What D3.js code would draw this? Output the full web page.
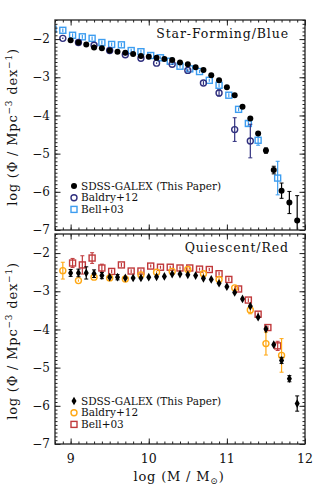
<!DOCTYPE html>
<html>
<head>
<meta charset="utf-8">
<script src="https://cdn.jsdelivr.net/npm/d3@7"></script>
<style>
  body { margin: 0; background: #fff; }
  text { font-family: "DejaVu Serif", serif; fill: #111; }
</style>
</head>
<body>
<svg width="325" height="500"></svg>
<script>
// --- data ---
var xTicks = [9, 10, 11, 12];
var yTicks = [-2, -3, -4, -5, -6, -7];

// star-forming / blue panel
var sfSdssX = [9.0,9.1,9.2,9.3,9.4,9.5,9.6,9.7,9.8,9.9,10.0,10.1,10.2,10.3,10.4,10.5,10.6,10.7,10.8,10.9,11.0,11.1,11.2,11.3,11.4,11.5,11.6,11.7,11.8,11.9];
var sfSdssY = [-2.03,-2.09,-2.14,-2.22,-2.24,-2.30,-2.33,-2.36,-2.39,-2.44,-2.46,-2.49,-2.52,-2.55,-2.61,-2.66,-2.74,-2.81,-2.95,-3.08,-3.26,-3.47,-3.77,-4.08,-4.47,-4.92,-5.43,-5.97,-6.28,-6.75];
var sfSdssE = [0.02,0.02,0.02,0.02,0.02,0.02,0.02,0.02,0.02,0.02,0.02,0.02,0.02,0.02,0.02,0.02,0.02,0.02,0.02,0.02,0.02,0.02,0.03,0.04,0.05,0.07,0.1,0.2,0.29,0.65];

var sfBalX = [8.9,9.1,9.3,9.5,9.7,9.9,10.1,10.3,10.5,10.7,10.9,11.1,11.3];
var sfBalY = [-1.98,-2.09,-2.16,-2.30,-2.41,-2.50,-2.63,-2.66,-2.82,-3.15,-3.41,-4.37,-4.67];
var sfBalE = [0.02,0.02,0.02,0.02,0.02,0.02,0.02,0.02,0.03,0.05,0.08,0.31,0.44];

var sfBellX = [8.775,8.9,9.025,9.15,9.275,9.4,9.525,9.65,9.775,9.9,10.025,10.15,10.275,10.4,10.525,10.65,10.775,10.9,11.025,11.15,11.275,11.4,11.65];
var sfBellY = [-1.74,-1.77,-1.90,-1.94,-1.98,-2.09,-2.14,-2.15,-2.30,-2.33,-2.43,-2.49,-2.58,-2.71,-2.78,-2.85,-3.08,-3.21,-3.47,-3.84,-4.21,-4.65,-5.64];
var sfBellE = [0.05,0.05,0.05,0.05,0.05,0.05,0.05,0.05,0.05,0.05,0.05,0.04,0.04,0.04,0.04,0.04,0.04,0.05,0.05,0.05,0.07,0.13,0.44];

// quiescent / red panel
var qSdssX = [9.0,9.1,9.2,9.3,9.4,9.5,9.6,9.7,9.8,9.9,10.0,10.1,10.2,10.3,10.4,10.5,10.6,10.7,10.8,10.9,11.0,11.1,11.2,11.3,11.4,11.5,11.6,11.7,11.8,11.9];
var qSdssY = [-2.52,-2.52,-2.52,-2.54,-2.59,-2.63,-2.63,-2.65,-2.65,-2.65,-2.63,-2.62,-2.61,-2.55,-2.55,-2.57,-2.59,-2.66,-2.69,-2.79,-2.88,-3.03,-3.20,-3.39,-3.68,-3.99,-4.40,-4.81,-5.29,-5.94];
var qSdssE = [0.09,0.1,0.16,0.1,0.08,0.06,0.07,0.06,0.05,0.05,0.04,0.04,0.03,0.03,0.03,0.03,0.03,0.03,0.03,0.03,0.03,0.03,0.03,0.04,0.04,0.05,0.05,0.08,0.08,0.2];

var qBalX = [8.9,9.1,9.3,9.5,9.7,9.9,10.1,10.3,10.5,10.7,10.9,11.1,11.3,11.5,11.7];
var qBalY = [-2.46,-2.72,-2.63,-2.65,-2.68,-2.57,-2.50,-2.48,-2.43,-2.54,-2.69,-2.91,-3.49,-4.37,-4.68];
var qBalE = [0.22,0.03,0.03,0.03,0.03,0.03,0.03,0.03,0.03,0.03,0.04,0.05,0.1,0.3,0.44];

var qBellX = [9.025,9.15,9.275,9.4,9.525,9.65,9.775,9.9,10.025,10.15,10.275,10.4,10.525,10.65,10.775,10.9,11.025,11.15,11.275,11.4,11.525,11.65];
var qBellY = [-2.26,-2.31,-2.13,-2.39,-2.48,-2.31,-2.47,-2.47,-2.34,-2.37,-2.37,-2.39,-2.39,-2.42,-2.43,-2.54,-2.69,-2.94,-3.23,-3.60,-3.95,-4.43];
var qBellE = [0.12,0.24,0.14,0.1,0.05,0.05,0.05,0.05,0.04,0.04,0.04,0.04,0.04,0.04,0.04,0.05,0.05,0.05,0.05,0.05,0.05,0.12];

var colSdss = "#000000", colBalSF = "#30307f", colBellSF = "#3d9df0",
    colBalQ = "#ffa814", colBellQ = "#c0393b";

function zip(xs, ys, es) {
  return xs.map(function(x, i) { return {x: x, y: ys[i], e: es[i]}; });
}

var svg = d3.select("svg");
var x = d3.scaleLinear().domain([8.8, 12]).range([55, 305]);

var panels = [
  {top: 20, bottom: 230, label: "Star-Forming/Blue", xLabels: false,
   series: [
     {data: zip(sfBellX, sfBellY, sfBellE), color: colBellSF, shape: "square", name: "Bell+03"},
     {data: zip(sfBalX, sfBalY, sfBalE), color: colBalSF, shape: "circle", name: "Baldry+12"},
     {data: zip(sfSdssX, sfSdssY, sfSdssE), color: colSdss, shape: "dot", name: "SDSS-GALEX (This Paper)"}
   ], legendY: 186},
  {top: 234, bottom: 444, label: "Quiescent/Red", xLabels: true,
   series: [
     {data: zip(qBellX, qBellY, qBellE), color: colBellQ, shape: "square", name: "Bell+03"},
     {data: zip(qBalX, qBalY, qBalE), color: colBalQ, shape: "circle", name: "Baldry+12"},
     {data: zip(qSdssX, qSdssY, qSdssE), color: colSdss, shape: "diamond", name: "SDSS-GALEX (This Paper)"}
   ], legendY: 401}
];

function drawMarker(g, shape, color, cx, cy) {
  if (shape == "dot") {
    g.append("circle").attr("cx", cx).attr("cy", cy).attr("r", 3).attr("fill", color);
  } else if (shape == "diamond") {
    g.append("path").attr("transform", "translate(" + cx + "," + cy + ")")
      .attr("d", d3.symbol(d3.symbolDiamond, 22)()).attr("fill", color);
  } else if (shape == "circle") {
    g.append("circle").attr("cx", cx).attr("cy", cy).attr("r", 3)
      .attr("fill", "none").attr("stroke", color).attr("stroke-width", 1.4);
  } else {
    g.append("rect").attr("x", cx - 3).attr("y", cy - 3).attr("width", 6).attr("height", 6)
      .attr("fill", "none").attr("stroke", color).attr("stroke-width", 1.4);
  }
}

panels.forEach(function(p, pi) {
  var y = d3.scaleLinear().domain([-7, -1.5]).range([p.bottom, p.top]);
  var clipId = "clip" + pi;
  svg.append("clipPath").attr("id", clipId).append("rect")
    .attr("x", 55).attr("y", p.top).attr("width", 250).attr("height", p.bottom - p.top);

  var plot = svg.append("g").attr("clip-path", "url(#" + clipId + ")");

  p.series.forEach(function(s) {
    var g = plot.append("g");
    // error bars with small caps
    g.selectAll("line.eb").data(s.data).enter().append("line")
      .attr("x1", function(d) { return x(d.x); }).attr("x2", function(d) { return x(d.x); })
      .attr("y1", function(d) { return y(d.y - d.e); }).attr("y2", function(d) { return y(d.y + d.e); })
      .attr("stroke", s.color).attr("stroke-width", 1.2);
    [-1, 1].forEach(function(sg) {
      g.selectAll(null).data(s.data.filter(function(d) { return d.e > 0.06; })).enter().append("line")
        .attr("x1", function(d) { return x(d.x) - 2; }).attr("x2", function(d) { return x(d.x) + 2; })
        .attr("y1", function(d) { return y(d.y + sg * d.e); }).attr("y2", function(d) { return y(d.y + sg * d.e); })
        .attr("stroke", s.color).attr("stroke-width", 1);
    });
    s.data.forEach(function(d) { drawMarker(g, s.shape, s.color, x(d.x), y(d.y)); });
  });

  // frame
  svg.append("rect").attr("x", 55).attr("y", p.top).attr("width", 250).attr("height", p.bottom - p.top)
    .attr("fill", "none").attr("stroke", "#333").attr("stroke-width", 1.4);

  var minorX = d3.range(88, 121).map(function(v) { return v / 10; });
  var minorY = d3.range(-70, -14).map(function(v) { return v / 10; });

  function axes(axisFn, scale, pos, major, minor, horiz) {
    var gMin = svg.append("g").attr("transform", horiz ? "translate(0," + pos + ")" : "translate(" + pos + ",0)")
      .call(axisFn(scale).tickValues(minor).tickSize(-2.5).tickFormat(""));
    var gMaj = svg.append("g").attr("transform", horiz ? "translate(0," + pos + ")" : "translate(" + pos + ",0)")
      .call(axisFn(scale).tickValues(major).tickSize(-5.5).tickFormat(""));
    [gMin, gMaj].forEach(function(g) {
      g.select(".domain").remove();
      g.selectAll("line").attr("stroke", "#222");
    });
  }
  axes(d3.axisBottom, x, p.bottom, xTicks, minorX, true);
  axes(d3.axisTop, x, p.top, xTicks, minorX, true);
  axes(d3.axisLeft, y, 55, yTicks, minorY, false);
  axes(d3.axisRight, y, 305, yTicks, minorY, false);

  // y tick labels
  svg.append("g").selectAll("text").data(yTicks).enter().append("text")
    .attr("x", 50).attr("y", function(d) { return y(d); }).attr("dy", "0.35em")
    .attr("text-anchor", "end").attr("font-size", 12)
    .text(function(d) { return "\u2212" + Math.abs(d); });

  if (p.xLabels) {
    svg.append("g").selectAll("text").data(xTicks).enter().append("text")
      .attr("x", function(d) { return x(d); }).attr("y", 463)
      .attr("text-anchor", "middle").attr("font-size", 12.5)
      .text(function(d) { return d; });
  }

  svg.append("text").attr("x", 289).attr("y", p.top + 18).attr("text-anchor", "end")
    .attr("font-size", 12.5).attr("letter-spacing", 0.9).text(p.label);

  // legend
  var legend = p.series.slice().reverse();
  legend.forEach(function(s, i) {
    var ly = p.legendY + i * 11.7;
    drawMarker(svg.append("g"), s.shape, s.color, 74, ly);
    svg.append("text").attr("x", 81).attr("y", ly).attr("dy", "0.35em")
      .attr("font-size", 10.5).text(s.name);
  });

  // y axis title
  var yt = svg.append("text").attr("transform", "translate(17," + ((p.top + p.bottom) / 2 + 2) + ") rotate(-90)")
    .attr("text-anchor", "middle").attr("font-size", 13).attr("letter-spacing", 0.8);
  yt.append("tspan").text("log (\u03a6 / Mpc");
  yt.append("tspan").attr("dy", -5).attr("font-size", 9).text("\u22123");
  yt.append("tspan").attr("dy", 5).text(" dex");
  yt.append("tspan").attr("dy", -5).attr("font-size", 9).text("\u22121");
  yt.append("tspan").attr("dy", 5).text(")");
});

var xt = svg.append("text").attr("x", 179).attr("y", 481).attr("text-anchor", "middle")
  .attr("font-size", 13).attr("letter-spacing", 0.8);
xt.append("tspan").text("log (M / M");
xt.append("tspan").attr("dy", 3).attr("font-size", 9).text("\u2299");
xt.append("tspan").attr("dy", -3).text(")");
</script>
</body>
</html>
